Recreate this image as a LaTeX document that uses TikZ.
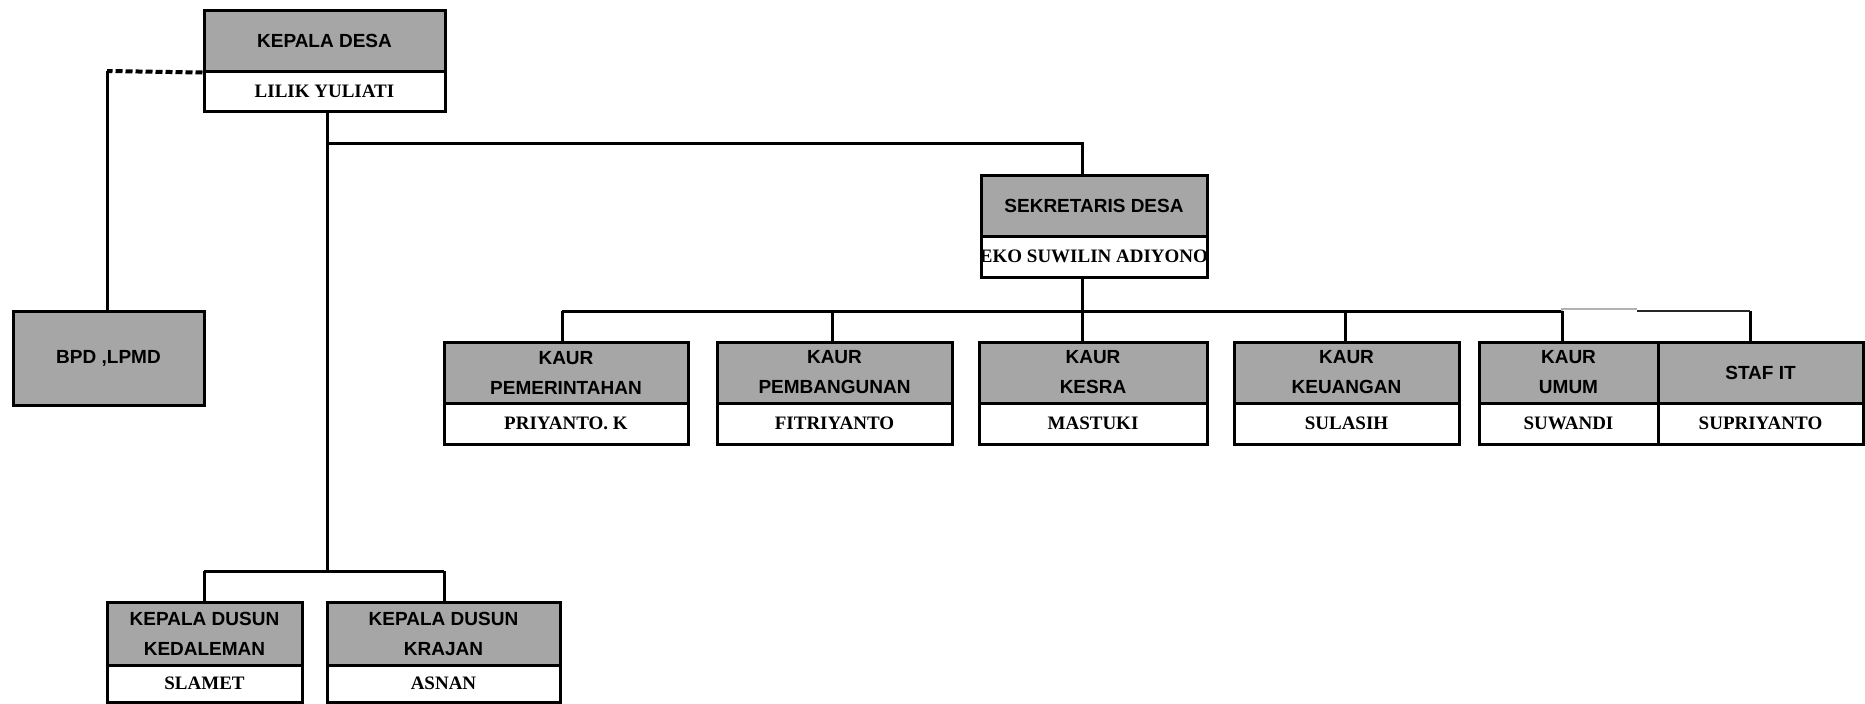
\documentclass[tikz,border=0pt]{standalone}
\usepackage{fontspec}
\newfontfamily\hsans{Liberation Sans}
\newfontfamily\nserif{Liberation Serif}
\definecolor{boxgray}{RGB}{166,166,166}
\tikzset{
  conn/.style={line width=1.5pt},
  dashline/.style={line width=2pt, dash pattern=on 3.5pt off 1.5pt},
  headbox/.style={draw, line width=1.5pt, fill=boxgray, inner sep=0pt, align=center,
     font=\hsans\bfseries\fontsize{9.5}{15}\selectfont},
  namebox/.style={draw, line width=1.5pt, fill=white, inner sep=0pt, align=center,
     font=\nserif\bfseries\fontsize{9.5}{12}\selectfont},
}
% name, x1, x2, y1, ym, y2, top text, bottom text
\newcommand\orgbox[8]{%
  \node[headbox, minimum width={(#3-#2)*0.5pt}, minimum height={(#5-#4)*0.5pt}]
     (#1-t) at ({(#2+#3)/2},{(#4+#5)/2}) {#7};
  \node[namebox, minimum width={(#3-#2)*0.5pt}, minimum height={(#6-#5)*0.5pt}]
     (#1-b) at ({(#2+#3)/2},{(#5+#6)/2}) {#8};
}
\begin{document}
\begin{tikzpicture}[x=0.5pt, y=-0.5pt]
\useasboundingbox (0,0) rectangle (1865,703);
% boxes
\orgbox{kd}{204}{445}{10}{71}{111}{KEPALA DESA}{LILIK YULIATI}
\node[headbox, minimum width={191*0.5pt}, minimum height={94*0.5pt}] (bpd) at (108.5,358) {BPD ,LPMD};
\orgbox{sd}{981}{1207}{175}{236}{277}{SEKRETARIS DESA}{\makebox[0pt]{EKO SUWILIN ADIYONO}}
\orgbox{k1}{444}{688}{342}{403}{444}{KAUR\\PEMERINTAHAN}{PRIYANTO. K}
\orgbox{k2}{717}{952}{342}{403}{444}{KAUR\\PEMBANGUNAN}{FITRIYANTO}
\orgbox{k3}{979}{1207}{342}{403}{444}{KAUR\\KESRA}{MASTUKI}
\orgbox{k4}{1234}{1459}{342}{403}{444}{KAUR\\KEUANGAN}{SULASIH}
\orgbox{k5}{1479}{1658}{342}{403}{444}{KAUR\\UMUM}{SUWANDI}
\orgbox{k6}{1658}{1863}{342}{403}{444}{STAF IT}{SUPRIYANTO}
\orgbox{du1}{107}{302}{602}{665}{702}{KEPALA DUSUN\\KEDALEMAN}{SLAMET}
\orgbox{du2}{327}{560}{602}{665}{702}{KEPALA DUSUN\\KRAJAN}{ASNAN}
% junction coordinates
\coordinate (a1) at (327,143);
\coordinate (a2) at (1082,143);
\coordinate (dj) at (327,571);
\coordinate (d1) at (204,571);
\coordinate (d2) at (444,571);
\coordinate (bp) at (107,71);
\coordinate (r1) at (562,311);
\coordinate (r2) at (832,311);
\coordinate (r3) at (1082,311);
\coordinate (r4) at (1345,311);
\coordinate (r5) at (1562,311);
\coordinate (rg) at (1637,309);
\coordinate (rh) at (1637,311);
\coordinate (r6) at (1750,311);
% connectors
\draw[dashline] (kd-t.south west) -- (bp);
\draw[conn] (bp) -- (bp |- bpd.north);
\draw[conn] (a1 |- kd-b.south) -- (dj);
\draw[conn] (a1) -- (a2) -- (a2 |- sd-t.north);
\draw[conn] (a2 |- sd-b.south) -- (r3);
\draw[conn] (r1) -- (r5);
\foreach \i in {1,...,6} {\draw[conn] (r\i) -- (r\i |- k\i-t.north);}
\draw[line width=1.2pt, gray!60] (r5) -- (r5 |- rg) -- (rg);
\draw[line width=1.2pt, black!85] (rh) -- (r6);
\draw[conn] (d1) -- (d2);
\draw[conn] (d1) -- (d1 |- du1-t.north);
\draw[conn] (d2) -- (d2 |- du2-t.north);
\end{tikzpicture}
\end{document}
